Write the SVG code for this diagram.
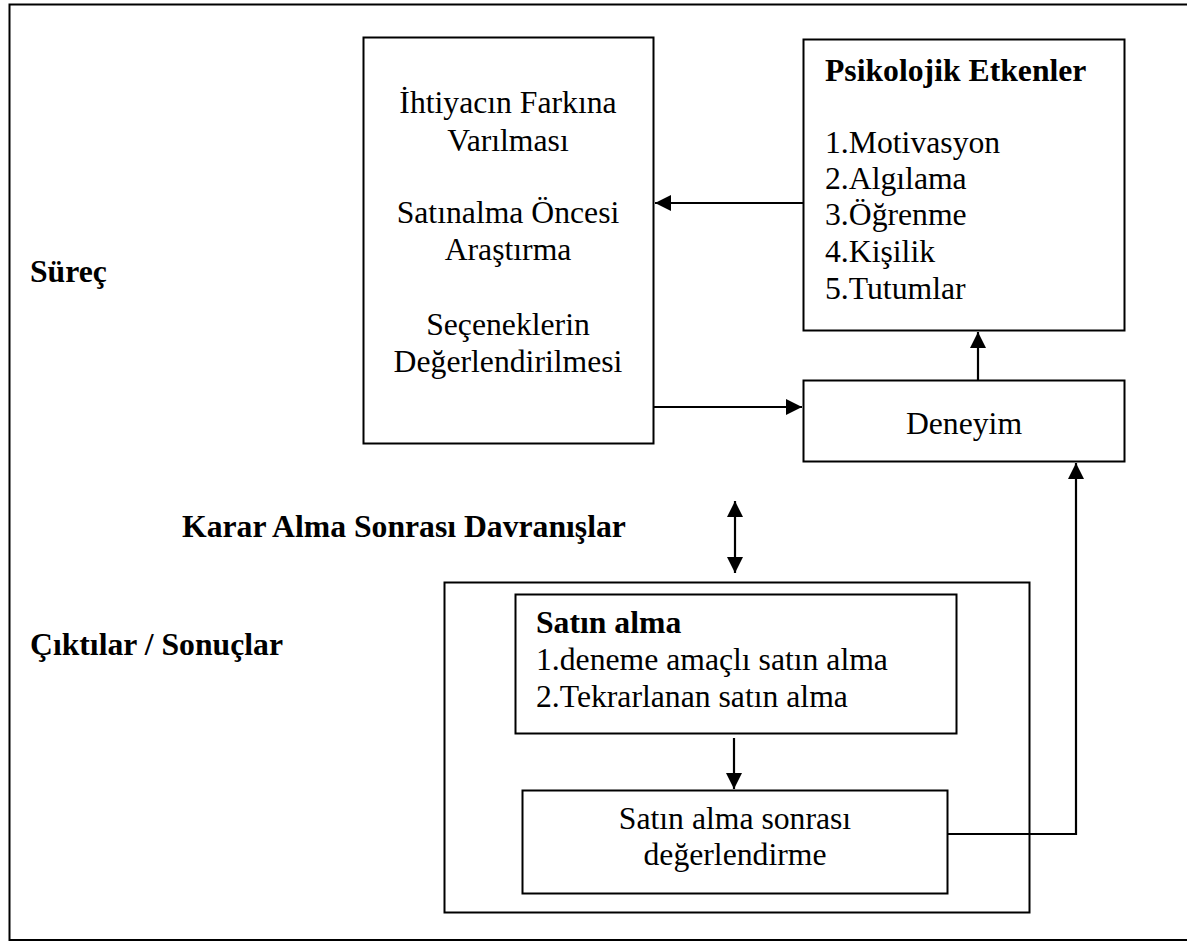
<svg xmlns="http://www.w3.org/2000/svg" width="1187" height="941" viewBox="0 0 1187 941">
<style>
.box{fill:#fff;stroke:#000;stroke-width:2}
.t{font-family:"Liberation Serif","Times New Roman",serif;font-size:31.7px;fill:#000}
.b{font-weight:bold}
.c{text-anchor:middle}
.ln{fill:none;stroke:#000;stroke-width:2.2}
</style>
<defs>
<marker id="ah" viewBox="0 0 10 10" refX="10" refY="5" markerWidth="16" markerHeight="16" markerUnits="userSpaceOnUse" orient="auto-start-reverse">
<path d="M0,0 L10,5 L0,10 z" fill="#000"/>
</marker>
</defs>
<rect width="1187" height="941" fill="#fff"/>
<path d="M1190,4.5 H9.5 V940 H1190" fill="none" stroke="#000" stroke-width="2"/>

<g id="label-surec"><text class="t b" x="30" y="282">Süreç</text></g>
<g id="label-karar"><text class="t b" x="182" y="537">Karar Alma Sonrası Davranışlar</text></g>
<g id="label-ciktilar"><text class="t b" x="30" y="655">Çıktılar / Sonuçlar</text></g>

<g id="process">
<rect class="box" x="363.5" y="37.5" width="290" height="406"/>
<text class="t c" x="508" y="113">İhtiyacın Farkına</text>
<text class="t c" x="508" y="151">Varılması</text>
<text class="t c" x="508" y="223">Satınalma Öncesi</text>
<text class="t c" x="508" y="260">Araştırma</text>
<text class="t c" x="508" y="335">Seçeneklerin</text>
<text class="t c" x="508" y="372">Değerlendirilmesi</text>
</g>

<g id="psikolojik">
<rect class="box" x="803.5" y="39.5" width="321" height="291"/>
<text class="t b" x="825" y="81">Psikolojik Etkenler</text>
<text class="t" x="825" y="153">1.Motivasyon</text>
<text class="t" x="825" y="189">2.Algılama</text>
<text class="t" x="825" y="225">3.Öğrenme</text>
<text class="t" x="825" y="262">4.Kişilik</text>
<text class="t" x="825" y="299">5.Tutumlar</text>
</g>

<g id="deneyim">
<rect class="box" x="803.5" y="380.5" width="321" height="81"/>
<text class="t c" x="964" y="434">Deneyim</text>
</g>

<g id="ciktilar">
<rect class="box" x="444.5" y="582.5" width="585" height="330"/>
</g>

<g id="satin-alma">
<rect class="box" x="515.5" y="594.5" width="441" height="139"/>
<text class="t b" x="536" y="633">Satın alma</text>
<text class="t" x="536" y="670">1.deneme amaçlı satın alma</text>
<text class="t" x="536" y="707">2.Tekrarlanan satın alma</text>
</g>

<g id="sonrasi">
<rect class="box" x="522.5" y="790.5" width="425" height="103"/>
<text class="t c" x="735" y="829">Satın alma sonrası</text>
<text class="t c" x="735" y="865">değerlendirme</text>
</g>

<g id="connectors">
<line class="ln" x1="803" y1="203" x2="655" y2="203" marker-end="url(#ah)"/>
<line class="ln" x1="654" y1="407" x2="802" y2="407" marker-end="url(#ah)"/>
<line class="ln" x1="978" y1="380" x2="978" y2="332" marker-end="url(#ah)"/>
<line class="ln" x1="735" y1="501" x2="735" y2="573" marker-start="url(#ah)" marker-end="url(#ah)"/>
<line class="ln" x1="734" y1="738" x2="734" y2="789" marker-end="url(#ah)"/>
<polyline class="ln" points="948,834 1076,834 1076,463" marker-end="url(#ah)"/>
</g>
</svg>
